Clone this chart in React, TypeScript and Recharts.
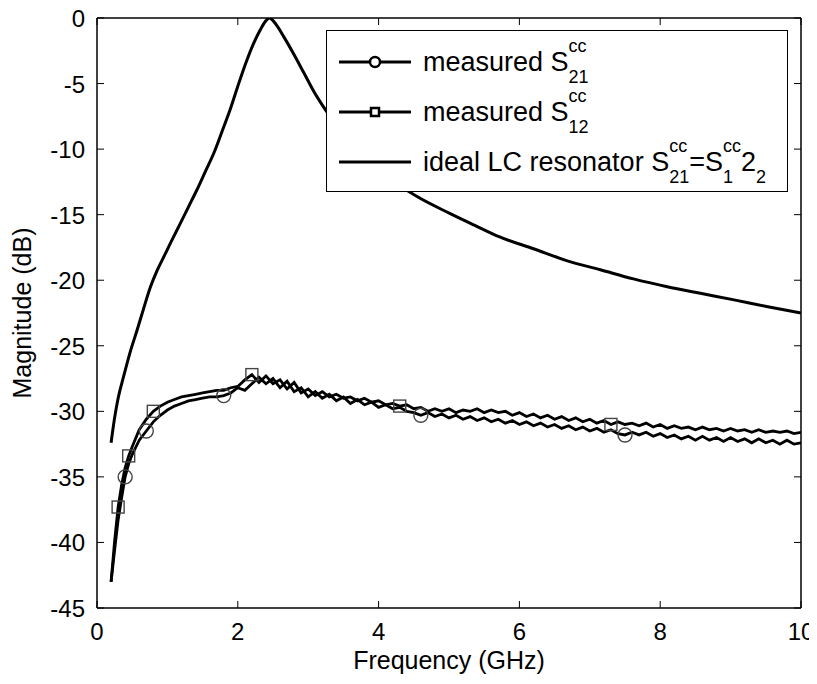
import React from 'react';
import { ComposedChart, Line, XAxis, YAxis } from 'recharts';

// measured curves share this frequency grid (GHz)
const freq = [
  0.2, 0.25, 0.3, 0.35, 0.4, 0.45, 0.5, 0.6, 0.7, 0.8, 0.9, 1.0,
  1.1, 1.2, 1.3, 1.4, 1.5, 1.6, 1.7, 1.8, 1.9, 2.0,
  2.1, 2.2, 2.3, 2.4, 2.5, 2.6, 2.7, 2.8, 2.9, 3.0,
  3.1, 3.2, 3.3, 3.4, 3.5, 3.6, 3.7, 3.8, 3.9, 4.0,
  4.1, 4.2, 4.3, 4.4, 4.5, 4.6, 4.7, 4.8, 4.9, 5.0,
  5.1, 5.2, 5.3, 5.4, 5.5, 5.6, 5.7, 5.8, 5.9, 6.0,
  6.1, 6.2, 6.3, 6.4, 6.5, 6.6, 6.7, 6.8, 6.9, 7.0,
  7.1, 7.2, 7.3, 7.4, 7.5, 7.6, 7.7, 7.8, 7.9, 8.0,
  8.1, 8.2, 8.3, 8.4, 8.5, 8.6, 8.7, 8.8, 8.9, 9.0,
  9.1, 9.2, 9.3, 9.4, 9.5, 9.6, 9.7, 9.8, 9.9, 10.0,
];

const s12Db = [
  -43.0, -39.9, -37.3, -35.6, -34.3, -33.4, -32.7, -31.4, -30.6, -30.0, -29.6, -29.3,
  -29.1, -28.9, -28.8, -28.7, -28.6, -28.5, -28.4, -28.4, -28.2, -28.1,
  -27.6, -27.2, -27.8, -27.3, -27.9, -27.6, -28.3, -27.8, -28.6, -28.3,
  -28.8, -28.5, -28.9, -28.7, -29.0, -28.9, -29.2, -29.0, -29.3, -29.2,
  -29.5, -29.4, -29.6, -29.5, -29.8, -29.7, -30.0, -29.8, -30.0, -29.8,
  -30.1, -29.9, -30.0, -29.8, -30.1, -29.9, -30.1, -30.0, -30.3, -30.1,
  -30.4, -30.2, -30.5, -30.3, -30.6, -30.4, -30.7, -30.5, -30.8, -30.6,
  -30.9, -30.7, -31.0, -30.8, -31.0, -30.9, -31.1, -30.9, -31.2, -31.0,
  -31.3, -31.1, -31.3, -31.2, -31.4, -31.2, -31.4, -31.3, -31.5, -31.3,
  -31.5, -31.4, -31.6, -31.4, -31.6, -31.5, -31.6, -31.5, -31.7, -31.6,
];

const s21Db = [
  -43.0, -40.6, -38.3, -36.6, -35.0, -34.0, -33.3, -32.2, -31.5, -30.8, -30.3, -29.9,
  -29.6, -29.4, -29.2, -29.1, -29.0, -28.9, -28.9, -28.8, -28.6, -28.2,
  -28.4, -27.9, -27.4, -27.9, -27.5, -28.2, -27.7, -28.5, -28.2, -28.9,
  -28.5, -29.0, -28.7, -29.2, -28.9, -29.4, -29.1, -29.5, -29.3, -29.7,
  -29.5, -29.8, -29.7, -30.0, -30.1, -30.3, -30.1, -30.4, -30.2, -30.5,
  -30.3, -30.6, -30.4, -30.7, -30.5, -30.8, -30.6, -30.9, -30.7, -31.0,
  -30.8, -31.1, -30.9, -31.2, -31.0, -31.3, -31.1, -31.4, -31.2, -31.5,
  -31.3, -31.6, -31.4, -31.7, -31.8, -31.6, -31.8, -31.6, -31.9, -31.7,
  -32.0, -31.8, -32.1, -31.9, -32.2, -31.9, -32.2, -32.0, -32.3, -32.0,
  -32.3, -32.1, -32.4, -32.1, -32.4, -32.2, -32.5, -32.2, -32.5, -32.4,
];

// frequencies where the markers sit
const s21Marks = [0.4, 0.7, 1.8, 4.6, 7.5];
const s12Marks = [0.3, 0.45, 0.8, 2.2, 4.3, 7.3];

// ideal LC resonator
const idealFreq = [
  0.2, 0.25, 0.3, 0.38, 0.47, 0.57, 0.66, 0.76, 0.85, 0.95, 1.05, 1.18,
  1.3, 1.42, 1.54, 1.66, 1.78, 1.89, 2.0, 2.13, 2.22, 2.32, 2.4, 2.45,
  2.5, 2.57, 2.65, 2.8, 2.94, 3.08, 3.22, 3.5, 3.8, 4.1, 4.54, 5.01,
  5.36, 5.72, 6.2, 6.67, 7.15, 7.62, 8.1, 8.57, 9.05, 9.51, 10.0,
];
const idealDb = [
  -32.4, -30.5, -29.0, -27.3, -25.5, -23.8, -22.2, -20.5, -19.3, -18.2, -17.1, -15.7,
  -14.4, -13.1, -11.7, -10.3, -8.6, -7.0, -5.2, -3.2, -2.0, -0.9, -0.2, 0,
  -0.2, -0.7, -1.4, -2.8, -4.2, -5.6, -6.8, -8.9, -10.6, -12.0, -13.6, -14.9,
  -15.8, -16.7, -17.6, -18.5, -19.2, -19.9, -20.5, -21.0, -21.5, -22.0, -22.5,
];

const xTicks = [0, 2, 4, 6, 8, 10];
const yTicks = [-45, -40, -35, -30, -25, -20, -15, -10, -5, 0];

const FONT = "'Liberation Sans', Arial, sans-serif";
const TICK_FS = 24;

const s12Data = freq.map((f, i) => ({ f, v: s12Db[i] }));
const s21Data = freq.map((f, i) => ({ f, v: s21Db[i] }));
const idealData = idealFreq.map((f, i) => ({ f, v: idealDb[i] }));

const BottomTick = (p: any) => (
  <g>
    <line x1={p.x} x2={p.x} y1={p.y} y2={p.y - 7} stroke="#000" />
    <text x={p.x} y={p.y + 32} textAnchor="middle" fontSize={TICK_FS} fontFamily={FONT} fill="#000">
      {p.payload.value}
    </text>
  </g>
);
const TopTick = (p: any) => (
  <line x1={p.x} x2={p.x} y1={p.y} y2={p.y + 7} stroke="#000" />
);
const LeftTick = (p: any) => (
  <g>
    <line x1={p.x} x2={p.x + 7} y1={p.y} y2={p.y} stroke="#000" />
    <text x={p.x - 12} y={p.y + 9} textAnchor="end" fontSize={TICK_FS} fontFamily={FONT} fill="#000">
      {p.payload.value}
    </text>
  </g>
);
const RightTick = (p: any) => (
  <line x1={p.x} x2={p.x - 7} y1={p.y} y2={p.y} stroke="#000" />
);

const circleDot = (p: any) =>
  s21Marks.includes(p.payload.f) ? (
    <circle key={`c${p.index}`} cx={p.cx} cy={p.cy} r={7} fill="none" stroke="#444" strokeWidth={1.4} />
  ) : (
    <g key={`c${p.index}`} />
  );
const squareDot = (p: any) =>
  s12Marks.includes(p.payload.f) ? (
    <rect key={`s${p.index}`} x={p.cx - 6} y={p.cy - 6} width={12} height={12} fill="none" stroke="#444" strokeWidth={1.4} />
  ) : (
    <g key={`s${p.index}`} />
  );

const Stack = ({ sup, sub }: { sup: string; sub: string }) => (
  <span style={{ display: 'inline-flex', flexDirection: 'column', verticalAlign: 'middle', fontSize: 18, lineHeight: '15px', marginTop: -4 }}>
    <span style={{ position: 'relative', top: -8 }}>{sup || '\u00a0'}</span>
    <span style={{ position: 'relative', top: 8 }}>{sub}</span>
  </span>
);

const LegendRow = ({ marker, children }: { marker: 'circle' | 'square' | 'none'; children: React.ReactNode }) => (
  <div style={{ display: 'flex', alignItems: 'center', height: 50 }}>
    <svg width={72} height={20} style={{ marginRight: 12 }}>
      <line x1={0} x2={72} y1={10} y2={10} stroke="#000" strokeWidth={3} />
      {marker === 'circle' && <circle cx={36} cy={10} r={5} fill="#fff" stroke="#000" strokeWidth={2.5} />}
      {marker === 'square' && <rect x={32} y={6} width={8} height={8} fill="#fff" stroke="#000" strokeWidth={2.5} />}
    </svg>
    <span style={{ fontSize: 27, lineHeight: '30px', whiteSpace: 'nowrap' }}>{children}</span>
  </div>
);

export default function App() {
  return (
    <div style={{ position: 'relative', width: 817, height: 684, margin: '-8px 0 0 -8px', fontFamily: FONT, background: '#fff' }}>
      <ComposedChart width={817} height={684} margin={{ top: 17, right: 15, left: 17, bottom: 14 }}>
        <XAxis
          type="number"
          dataKey="f"
          domain={[0, 10]}
          ticks={xTicks}
          allowDataOverflow
          height={62}
          tickSize={0}
          tickMargin={0}
          tickLine={false}
          tick={<BottomTick />}
          axisLine={{ stroke: '#000', strokeWidth: 1.5 }}
          label={{ value: 'Frequency (GHz)', position: 'insideBottom', offset: 1, fontSize: 25, fontFamily: FONT, fill: '#000' }}
        />
        <XAxis
          xAxisId="top"
          orientation="top"
          type="number"
          dataKey="f"
          domain={[0, 10]}
          ticks={xTicks}
          allowDataOverflow
          height={1}
          tickSize={0}
          tickMargin={0}
          tickLine={false}
          tick={<TopTick />}
          axisLine={{ stroke: '#000', strokeWidth: 1.5 }}
        />
        <YAxis
          type="number"
          domain={[-45, 0]}
          ticks={yTicks}
          allowDataOverflow
          width={80}
          tickSize={0}
          tickMargin={0}
          tickLine={false}
          tick={<LeftTick />}
          axisLine={{ stroke: '#000', strokeWidth: 1.5 }}
          label={{ value: 'Magnitude (dB)', angle: -90, position: 'insideLeft', offset: 5, fontSize: 25, fontFamily: FONT, fill: '#000', style: { textAnchor: 'middle' } }}
        />
        <YAxis
          yAxisId="right"
          orientation="right"
          type="number"
          domain={[-45, 0]}
          ticks={yTicks}
          allowDataOverflow
          width={1}
          tickSize={0}
          tickMargin={0}
          tickLine={false}
          tick={<RightTick />}
          axisLine={{ stroke: '#000', strokeWidth: 1.5 }}
        />
        <Line data={idealData} dataKey="v" xAxisId="top" yAxisId="right" type="monotone" stroke="#000" strokeWidth={3} dot={false} isAnimationActive={false} />
        <Line data={s21Data} dataKey="v" type="linear" stroke="#000" strokeWidth={2.8} dot={circleDot} isAnimationActive={false} />
        <Line data={s12Data} dataKey="v" type="linear" stroke="#000" strokeWidth={2.8} dot={squareDot} isAnimationActive={false} />
      </ComposedChart>
      <div
        style={{
          position: 'absolute',
          left: 326,
          top: 30,
          width: 462,
          height: 162,
          background: '#fff',
          border: '1.5px solid #000',
          paddingLeft: 12,
          paddingTop: 6,
          boxSizing: 'border-box',
          color: '#000',
        }}
      >
        <LegendRow marker="circle">
          measured S<Stack sup="cc" sub="21" />
        </LegendRow>
        <LegendRow marker="square">
          measured S<Stack sup="cc" sub="12" />
        </LegendRow>
        <LegendRow marker="none">
          ideal LC resonator S<Stack sup="cc" sub="21" />=S<Stack sup="cc" sub="1" />2<Stack sup="" sub="2" />
        </LegendRow>
      </div>
    </div>
  );
}
